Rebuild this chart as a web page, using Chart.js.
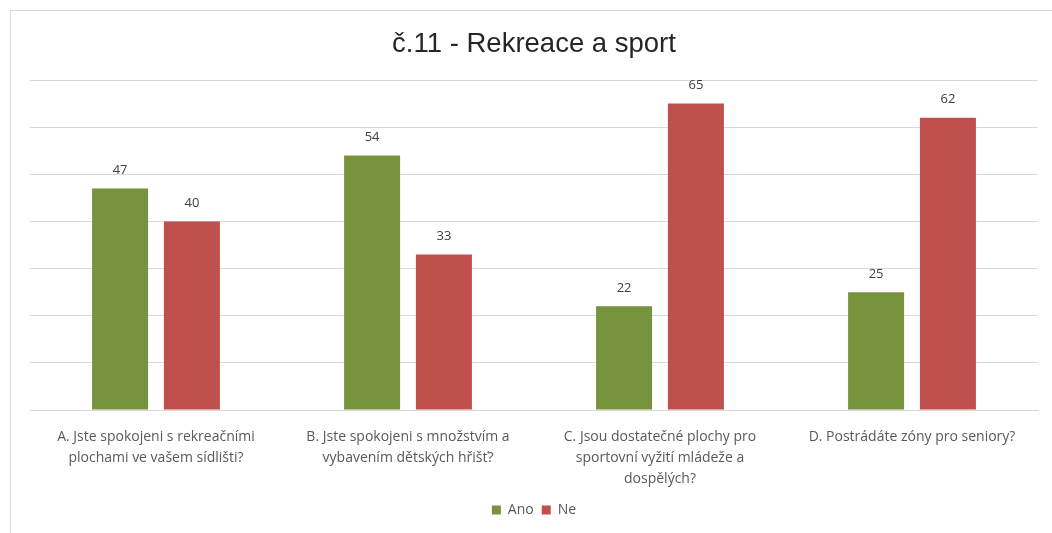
<!DOCTYPE html>
<html>
<head>
<meta charset="utf-8">
<script src="https://cdn.jsdelivr.net/npm/chart.js@4"></script>
<style>
  html, body { margin: 0; padding: 0; background: #fff; }
  #frame {
    position: absolute; left: 10px; top: 10px; width: 1042px; height: 523px;
    border-left: 1px solid #d9d9d9; border-top: 1px solid #d9d9d9;
  }
  #wrap { position: absolute; left: 0; top: 0; width: 1042px; height: 523px; }
</style>
</head>
<body>
<div id="frame"><div id="wrap"><canvas id="chart"></canvas></div></div>
<script>
// ---- data ----
const categories = [
  ['A. Jste spokojeni s rekreačními', 'plochami ve vašem sídlišti?'],
  ['B. Jste spokojeni s množstvím a', 'vybavením dětských hřišť?'],
  ['C. Jsou dostatečné plochy pro', 'sportovní vyžití mládeže a', 'dospělých?'],
  ['D. Postrádáte zóny pro seniory?']
];
const seriesNames = ['Ano', 'Ne'];
const anoValues = [47, 54, 22, 25];
const neValues = [40, 33, 65, 62];
const yMax = 70;
const yStep = 10;

const GREEN = '#77933c';
const RED = '#c0504d';
const TEXT = '#595959';
const FONT = "'Open Sans', 'Noto Sans', sans-serif";

// value labels above each bar
const valueLabels = {
  id: 'valueLabels',
  afterDatasetsDraw(chart) {
    const ctx = chart.ctx;
    ctx.save();
    ctx.font = '13px ' + FONT;
    ctx.fillStyle = '#404040';
    ctx.textAlign = 'center';
    ctx.textBaseline = 'middle';
    chart.data.datasets.forEach((ds, i) => {
      chart.getDatasetMeta(i).data.forEach((bar, j) => {
        ctx.fillText(ds.data[j], bar.x, bar.y - 18);
      });
    });
    ctx.restore();
  }
};

new Chart(document.getElementById('chart'), {
  type: 'bar',
  data: {
    labels: categories,
    datasets: [
      { label: seriesNames[0], data: anoValues, backgroundColor: GREEN,
        categoryPercentage: 0.57, barPercentage: 0.78 },
      { label: seriesNames[1], data: neValues, backgroundColor: RED,
        categoryPercentage: 0.57, barPercentage: 0.78 }
    ]
  },
  options: {
    responsive: true,
    maintainAspectRatio: false,
    animation: false,
    layout: { padding: { left: 19, right: 15, top: 0, bottom: 7 } },
    plugins: {
      title: {
        display: true,
        text: 'č.11 - Rekreace a sport',
        color: '#262626',
        font: { family: "'Liberation Sans', Arial, sans-serif", size: 27.5, weight: 'normal' },
        padding: { top: 17, bottom: 19 }
      },
      legend: {
        position: 'bottom',
        labels: {
          color: TEXT,
          font: { family: FONT, size: 14 },
          boxWidth: 9,
          boxHeight: 9,
          padding: 8
        }
      },
      tooltip: { enabled: false }
    },
    scales: {
      x: {
        grid: { display: false },
        border: { display: true, color: '#d9d9d9' },
        ticks: {
          color: TEXT,
          font: { family: FONT, size: 14, lineHeight: 1.5 },
          padding: 9,
          maxRotation: 0,
          autoSkip: false
        },
        afterFit(scale) { scale.height = 85; }
      },
      y: {
        min: 0,
        max: yMax,
        ticks: { display: false, stepSize: yStep },
        grid: { color: '#d9d9d9', drawTicks: false },
        border: { display: false }
      }
    }
  },
  plugins: [valueLabels]
});
</script>
</body>
</html>
